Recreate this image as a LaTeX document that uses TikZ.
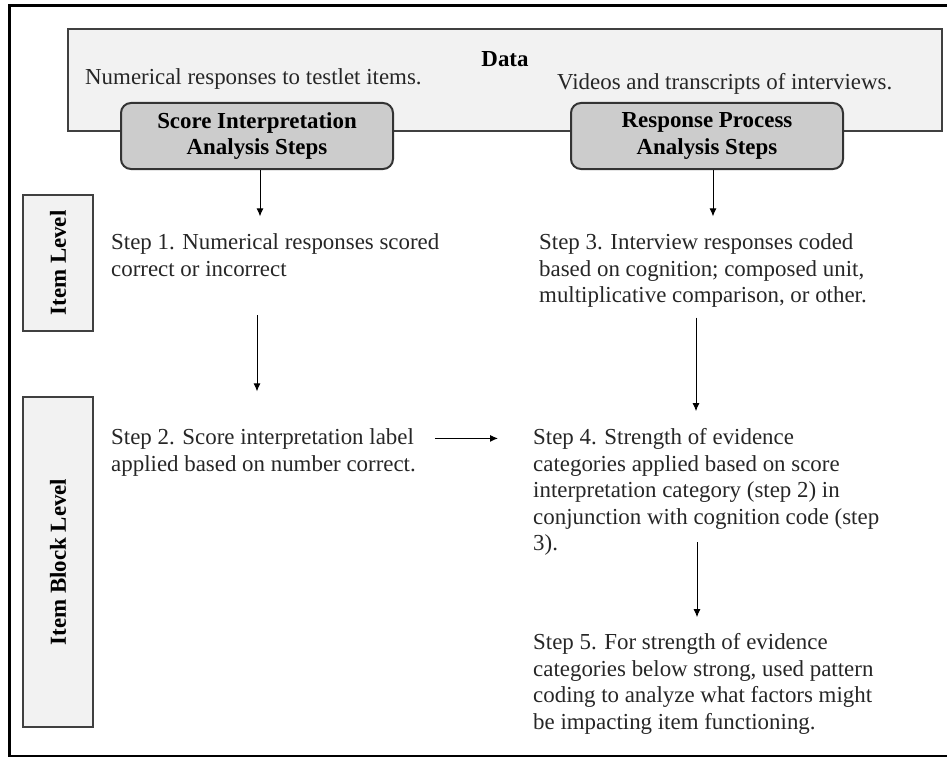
\documentclass[tikz,border=0pt]{standalone}
\usepackage{fontspec}
\setmainfont{Liberation Serif}
\usetikzlibrary{arrows.meta}
\newcommand\bodyfont{\fontsize{22.9}{26.5}\selectfont}
\tikzset{
  databox/.style={draw=black!75, fill=black!5, line width=1.5pt},
  headbox/.style={draw=black!80, fill=black!20, rounded corners=10pt, line width=2pt,
    font=\bodyfont\bfseries, align=center, minimum width=272pt, minimum height=66pt, inner sep=0pt},
  levelbox/.style={draw=black!75, fill=black!5, line width=2pt, font=\bodyfont\bfseries,
    rotate=90, minimum height=70pt, inner sep=0pt},
  steptext/.style={align=left, anchor=base west, inner sep=0pt, text=black!85},
  flow/.style={-{Latex[length=8pt,width=7pt]}, line width=1pt}
}
\begin{document}
\begin{tikzpicture}[x=1pt, y=-1pt, font=\bodyfont]
\useasboundingbox (0,0) rectangle (947,757);
% frame
\draw[line width=3pt] (9,6) rectangle (960,756);
% data
\draw[databox] (68,29) rectangle (942,131);
\node[font=\bodyfont\bfseries, inner sep=0pt] (data) at (505,59) {Data};
\node[steptext] (numresp) at (85,85) {Numerical responses to testlet items.};
\node[steptext] (videos) at (557,90) {Videos and transcripts of interviews.};
% analysis headers
\node[headbox] (score) at (257,136) {Score Interpretation\\Analysis Steps};
\node[headbox] (process) at (707,136) {Response Process\\Analysis Steps};
% levels
\node[levelbox, minimum width=136pt] (itemlvl) at (58,263) {Item Level};
\node[levelbox, minimum width=330pt] (blocklvl) at (58,562) {Item Block Level};
% steps (anchored on the last line)
\node[steptext] (s1) at (111,276) {Step 1. Numerical responses scored\\correct or incorrect};
\node[steptext] (s2) at (111,471) {Step 2. Score interpretation label\\applied based on number correct.};
\node[steptext] (s3) at (539,302.5) {Step 3. Interview responses coded\\based on cognition; composed unit,\\multiplicative comparison, or other.};
\node[steptext] (s4) at (533,550.5) {Step 4. Strength of evidence\\categories applied based on score\\interpretation category (step 2) in\\conjunction with cognition code (step\\3).};
\node[steptext] (s5) at (533,729) {Step 5. For strength of evidence\\categories below strong, used pattern\\coding to analyze what factors might\\be impacting item functioning.};
% arrows
\draw[flow, shorten >=17pt] ([xshift=3pt]score.south) -- ([xshift=3pt]score.south |- s1.north);
\draw[flow, shorten >=17pt] ([xshift=6pt]process.south) -- ([xshift=6pt]process.south |- s3.north);
\draw[flow, shorten <=39pt, shorten >=37pt] (score.south |- s1.south) -- (score.south |- s2.north);
\draw[flow, shorten <=10pt, shorten >=17pt] ([xshift=-11pt]process.south |- s3.south) -- ([xshift=-11pt]process.south |- s4.north);
\draw[flow, shorten <=19pt, shorten >=35pt] ([yshift=-10pt]s2.north east) -- ([yshift=-10pt]s2.north east -| s4.west);
\draw[flow, shorten >=16pt] ([xshift=164pt, yshift=8.5pt]s4.base west) -- ([xshift=164pt]s4.base west |- s5.north);
\end{tikzpicture}
\end{document}
